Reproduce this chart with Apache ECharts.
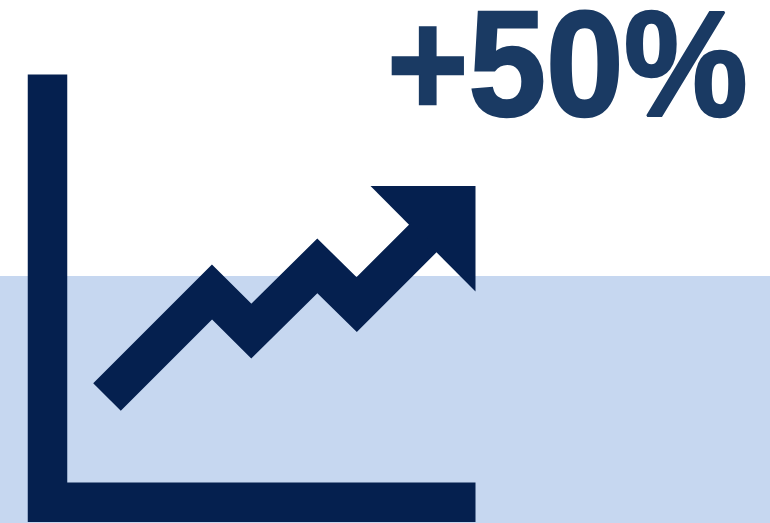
<!DOCTYPE html>
<html>
<head>
<meta charset="utf-8">
<style>html,body{margin:0;padding:0;background:#fff}#c{width:770px;height:523px}</style>
<script src="https://cdn.jsdelivr.net/npm/echarts@6/dist/echarts.min.js"></script>
</head>
<body>
<div id="c"></div>
<script>
// Growth pictogram: plot frame, rising zig-zag trend with arrow head, shaded lower band.
const headline = '+50%';
const navy = '#05204f';
const textNavy = '#1a3a63';
const bandBlue = '#c6d7f0';

const frameX = [47.5, 47.5, 475.5];
const frameY = [448.5, 20.75, 20.75];
const trendX = [107, 212, 251.3, 317.3, 356.7, 425];
const trendY = [126, 231, 192, 257.2, 218.4, 286.7];
const headX = [370.5, 475.5, 475.5];
const headY = [337, 337, 231.5];
const bandY = 247;

const pairs = (xs, ys) => xs.map((x, i) => [x, ys[i]]);

const polygonSeries = (points, fill) => ({
  type: 'custom',
  coordinateSystem: 'cartesian2d',
  silent: true,
  data: points,
  renderItem: (params, api) => params.dataIndex === 0 ? {
    type: 'polygon',
    shape: { points: points.map(p => api.coord(p)) },
    style: { fill }
  } : null
});

const chart = echarts.init(document.getElementById('c'), null, { renderer: 'canvas' });
chart.setOption({
  animation: false,
  grid: { left: 0, right: 0, top: 0, bottom: 0 },
  xAxis: { type: 'value', min: 0, max: 770, show: false },
  yAxis: { type: 'value', min: 0, max: 523, show: false },
  graphic: [{
    type: 'text',
    x: 387,
    y: 0,
    scaleX: 0.93,
    silent: true,
    style: {
      text: headline,
      fontFamily: 'Liberation Sans',
      fontWeight: 'bold',
      fontSize: 150,
      fill: textNavy,
      stroke: textNavy,
      lineWidth: 2.5,
      lineJoin: 'miter'
    }
  }],
  series: [
    polygonSeries([[0, 0], [770, 0], [770, bandY], [0, bandY]], bandBlue),
    {
      type: 'line',
      silent: true,
      symbol: 'none',
      data: pairs(frameX, frameY),
      lineStyle: { color: navy, width: 39.5, join: 'miter', cap: 'butt' }
    },
    {
      type: 'line',
      silent: true,
      symbol: 'none',
      data: pairs(trendX, trendY),
      lineStyle: { color: navy, width: 39, join: 'miter', cap: 'butt' }
    },
    polygonSeries(pairs(headX, headY), navy)
  ]
});
</script>
</body>
</html>
